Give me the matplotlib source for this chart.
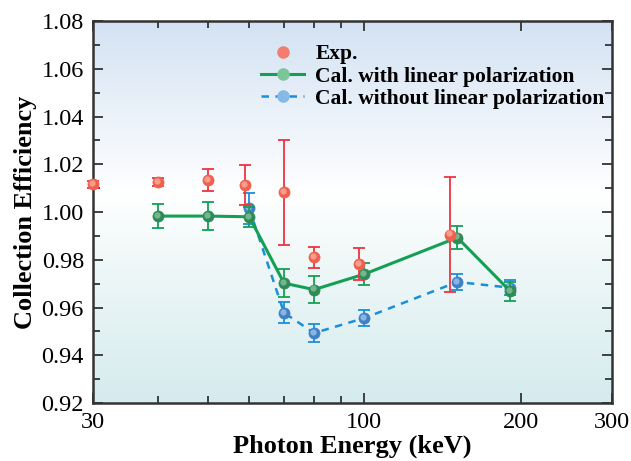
import numpy as np
import matplotlib.pyplot as plt
from matplotlib.colors import LinearSegmentedColormap
from matplotlib.ticker import FixedLocator, NullFormatter
from matplotlib.transforms import offset_copy

plt.rcParams['font.family'] = ['Liberation Serif', 'DejaVu Serif']

# experimental data
exp_e = [30, 40, 50, 59, 70, 80, 97.5, 146]
exp_y = [1.0117, 1.0125, 1.0135, 1.0113, 1.0083, 0.9810, 0.9782, 0.9905]
exp_err = [0.0015, 0.0017, 0.0045, 0.0083, 0.0220, 0.0044, 0.0068, 0.0240]

# calculation with linear polarization
cal_e = [40, 50, 60, 70, 80, 100, 151, 191]
cal_y = [0.9983, 0.9983, 0.9980, 0.9702, 0.9675, 0.9740, 0.9893, 0.9668]
cal_err = [0.0052, 0.0060, 0.0042, 0.0060, 0.0057, 0.0045, 0.0048, 0.0040]

# calculation without linear polarization
nop_e = [60, 70, 80, 100, 151, 191]
nop_y = [1.0015, 0.9578, 0.9493, 0.9556, 0.9707, 0.9683]
nop_err = [0.0065, 0.0043, 0.0037, 0.0035, 0.0035, 0.0032]

fig = plt.figure(figsize=(6.31, 4.61), dpi=100)
ax = fig.add_axes([0.1474, 0.1258, 0.8226, 0.8286])

# background gradient
bg = LinearSegmentedColormap.from_list('bg', [(0.0, '#d5ebee'), (0.35, '#eef7f7'),
                                               (0.55, '#ffffff'), (1.0, '#d3e2f3')])
grad = np.linspace(0, 1, 256).reshape(-1, 1)
ax.imshow(grad, cmap=bg, aspect='auto', extent=[0, 1, 0, 1], origin='lower',
          transform=ax.transAxes, zorder=0)

hl = offset_copy(ax.transData, fig=fig, x=-1.2, y=1.2, units='dots')


def balls(x, y, face, light, z):
    ax.plot(x, y, 'o', ms=8, mfc=face, mec=face, mew=0.5, zorder=z, clip_on=False)
    ax.plot(x, y, 'o', ms=4.5, mfc=light, mec='none', alpha=0.7, zorder=z + 0.1,
            clip_on=False, transform=hl)


ax.errorbar(cal_e, cal_y, yerr=cal_err, color='#13a055', lw=2.2, capsize=4.5,
            capthick=1.3, elinewidth=1.3, zorder=3)
balls(cal_e, cal_y, '#2f8a58', '#8fcaa6', 3.5)
ax.errorbar(nop_e, nop_y, yerr=nop_err, color='#1a8fd8', lw=1.8, ls=(0, (3, 2.6)),
            capsize=4.5, capthick=1.3, elinewidth=1.3, zorder=2)
balls(nop_e, nop_y, '#3f80c8', '#a9cdef', 2.5)
ax.errorbar(exp_e, exp_y, yerr=exp_err, fmt='none', ecolor='#ee3340',
            capsize=4.5, capthick=1.3, elinewidth=1.3, zorder=4, clip_on=False)
balls(exp_e, exp_y, '#f0604e', '#fcb8a8', 4.5)

# legend handles
h1, = ax.plot([], [], 'o', ms=8, mfc='#f47e6e', mec='#f47e6e', label='Exp.')
h2, = ax.plot([], [], '-o', color='#13a055', lw=2.2, ms=8, mfc='#7cc49a',
              mec='#7cc49a', label='Cal. with linear polarization')
h3, = ax.plot([], [], 'o', ls=(0, (3, 2.6)), color='#1a8fd8', lw=1.8, ms=8,
              mfc='#86b9e8', mec='#86b9e8', label='Cal. without linear polarization')
ax.legend(handles=[h1, h2, h3], loc='upper right', bbox_to_anchor=(1.023, 0.99),
          frameon=False, prop={'weight': 'bold', 'size': 15.5},
          handlelength=2.0, handletextpad=0.5, labelspacing=0.1)

ax.set_xscale('log')
ax.set_xlim(30, 300)
ax.set_ylim(0.92, 1.08)
ax.xaxis.set_major_locator(FixedLocator([30, 100, 200, 300]))
ax.xaxis.set_minor_locator(FixedLocator([40, 50, 60, 70, 80, 90]))
ax.xaxis.set_minor_formatter(NullFormatter())
ax.set_xticklabels(['30', '100', '200', '300'])
ax.set_yticks(np.arange(0.92, 1.081, 0.02))
ax.set_yticklabels(['%.2f' % v for v in np.arange(0.92, 1.081, 0.02)])
ax.yaxis.set_minor_locator(FixedLocator(np.arange(0.93, 1.08, 0.02)))
ax.tick_params(which='both', direction='in', top=True, right=True,
               labelsize=17.5, color='#333333', width=1.3)
ax.tick_params(which='major', length=7)
ax.tick_params(axis='x', which='major', pad=6.5)
ax.tick_params(axis='y', which='major', pad=6.5)
ax.tick_params(which='minor', length=5)
for s in ax.spines.values():
    s.set_linewidth(1.8)
    s.set_color('#333333')

ax.set_xlabel('Photon Energy (keV)', fontsize=19, fontweight='bold', labelpad=1)
ax.set_ylabel('Collection Efficiency', fontsize=19, fontweight='bold', labelpad=3)

fig.savefig('out.png', dpi=100)
